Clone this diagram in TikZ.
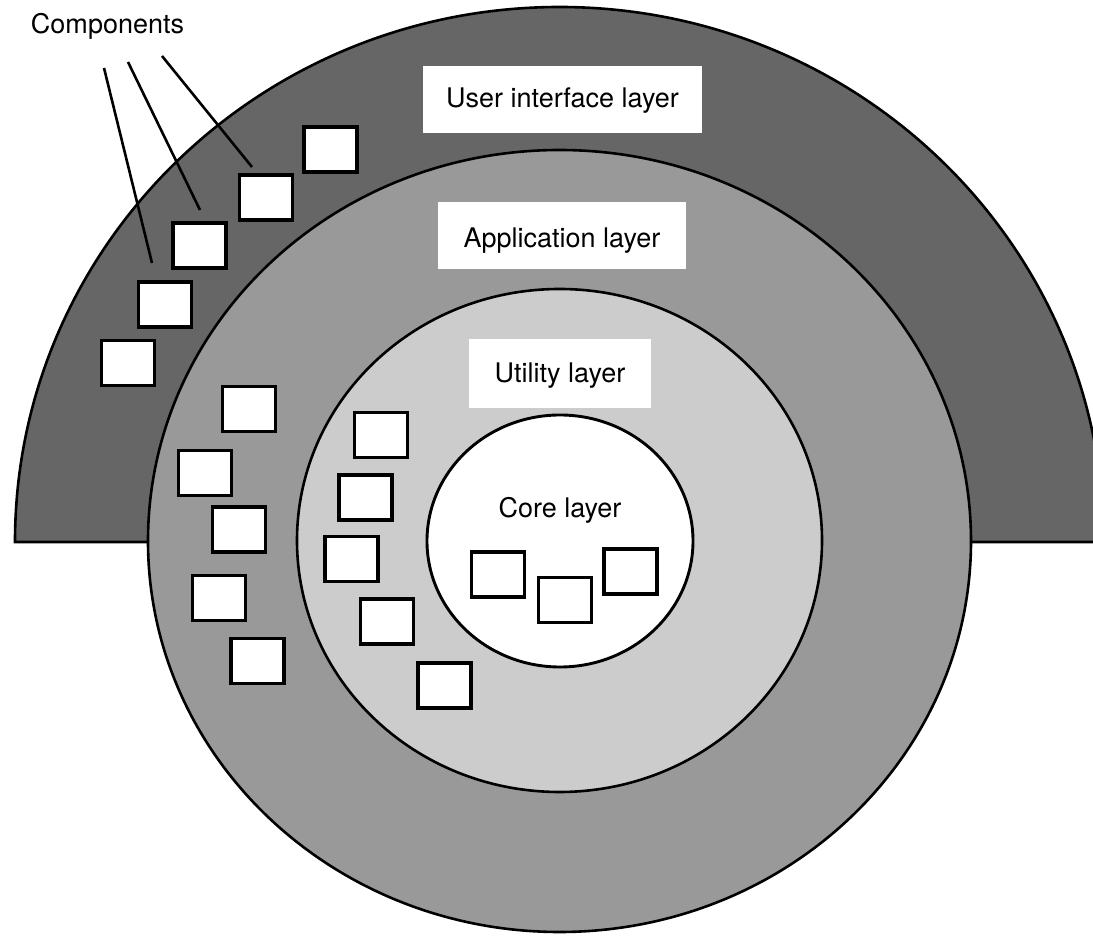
\documentclass[tikz,border=0pt]{standalone}
\usepackage{fontspec}
\setmainfont{TeX Gyre Heros}
\definecolor{uigray}{HTML}{666666}
\definecolor{appgray}{HTML}{999999}
\definecolor{utilgray}{HTML}{CCCCCC}
\begin{document}
\begin{tikzpicture}[x=1pt,y=1pt,
  ring/.style={draw=black, line width=2.6pt},
  comp/.style={draw=black, fill=white, line width=3.2pt, minimum width=53pt, minimum height=45pt, inner sep=0pt},
  lbl/.style={fill=white, inner sep=0pt, text depth=0pt, font=\fontsize{27}{32}\selectfont},
  plain/.style={inner sep=0pt, font=\fontsize{27}{32}\selectfont},
  leader/.style={draw=black, line width=2.6pt}]
\useasboundingbox (0,0) rectangle (1093,935);
\clip (0,0) rectangle (1093,935);
\fill[white] (0,0) rectangle (1093,935);
% layers
\draw[ring, fill=uigray] (15,393) arc[start angle=180, end angle=0, x radius=544.5, y radius=535] -- cycle;
\draw[ring, fill=appgray] (559.5,394) ellipse [x radius=411.5, y radius=391];
\draw[ring, fill=utilgray] (559.5,394.5) ellipse [x radius=262.5, y radius=251.5];
\draw[ring, line width=2.9pt, fill=white] (560,394) ellipse [x radius=133, y radius=126];
% labels
\node[lbl, minimum width=279pt, minimum height=67pt, text height=17pt] (uilabel) at (562.5,835.5) {User interface layer};
\node[lbl, minimum width=248pt, minimum height=67pt, text height=25pt] (applabel) at (562,699.5) {Application layer};
\node[lbl, minimum width=182pt, minimum height=69pt, text height=19pt] (utillabel) at (560,561.5) {Utility layer};
\node[plain, anchor=base] (corelabel) at (560,417) {Core layer};
\node[plain, anchor=base] (complabel) at (107.5,901) {Components};
% user interface components
\node[comp] (ui1) at (330.5,785.5) {};
\node[comp] (ui2) at (266,737.5) {};
\node[comp] (ui3) at (199.5,689.5) {};
\node[comp] (ui4) at (165,630.5) {};
\node[comp] (ui5) at (128,572) {};
% application components
\node[comp] (ap1) at (249,526) {};
\node[comp] (ap2) at (205,462) {};
\node[comp] (ap3) at (239,405.5) {};
\node[comp] (ap4) at (219,337) {};
\node[comp] (ap5) at (257.5,274) {};
% utility components
\node[comp] (ut1) at (381,500) {};
\node[comp] (ut2) at (365.5,437.5) {};
\node[comp] (ut3) at (351.5,376) {};
\node[comp] (ut4) at (387,313.5) {};
\node[comp] (ut5) at (444.5,249.5) {};
% core components
\node[comp] (co1) at (498,360.5) {};
\node[comp] (co2) at (565,335) {};
\node[comp] (co3) at (630.5,363.5) {};
% leader lines
\coordinate (l1s) at (104,867);
\coordinate (l1e) at (152,672);
\coordinate (l2s) at (128,873);
\coordinate (l2e) at (200,725);
\coordinate (l3s) at (162,879);
\coordinate (l3e) at (252,768);
\draw[leader] (l1s) -- (l1e);
\draw[leader] (l2s) -- (l2e);
\draw[leader] (l3s) -- (l3e);
\end{tikzpicture}
\end{document}
